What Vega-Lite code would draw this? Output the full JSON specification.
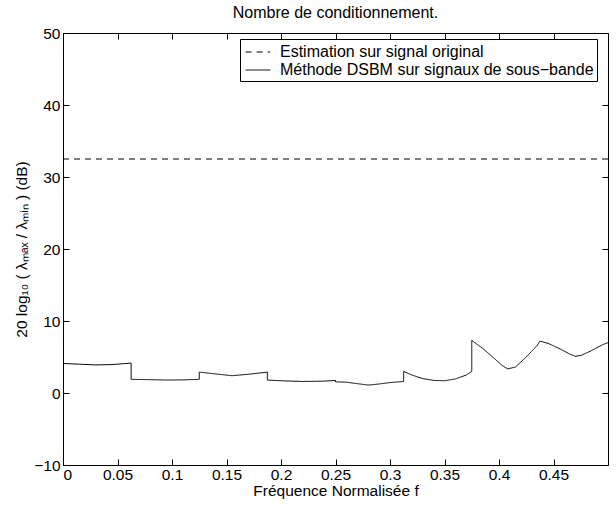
{
  "$schema": "https://vega.github.io/schema/vega-lite/v6.json",
  "autosize": "none",
  "width": 545,
  "height": 432,
  "padding": {"left": 63, "top": 33, "right": 8, "bottom": 43},
  "background": "white",
  "config": {
    "font": "Liberation Sans",
    "view": {"stroke": "black", "strokeWidth": 1},
    "axis": {
      "domain": false,
      "grid": false,
      "tickColor": "black",
      "tickSize": -6,
      "tickWidth": 1,
      "labelColor": "black",
      "labelFontSize": 15.5,
      "labelFont": "Liberation Sans",
      "labelOverlap": false,
      "titleColor": "black",
      "titleFontSize": 15.5,
      "titleFontWeight": "normal",
      "titleFont": "Liberation Sans"
    }
  },
  "title": {
    "text": "Nombre de conditionnement.",
    "fontSize": 16,
    "fontWeight": "normal",
    "font": "Liberation Sans",
    "color": "black",
    "offset": 5,
    "anchor": "middle"
  },
  "datasets": {
    "lines": [
      {"i": 0, "s": "Estimation sur signal original", "f": 0, "v": 32.5},
      {"i": 1, "s": "Estimation sur signal original", "f": 0.5, "v": 32.5},
      {"i": 0, "s": "Méthode DSBM sur signaux de sous−bande", "f": 0.0, "v": 4.1},
      {"i": 1, "s": "Méthode DSBM sur signaux de sous−bande", "f": 0.015, "v": 4.0},
      {"i": 2, "s": "Méthode DSBM sur signaux de sous−bande", "f": 0.03, "v": 3.9},
      {"i": 3, "s": "Méthode DSBM sur signaux de sous−bande", "f": 0.045, "v": 3.95},
      {"i": 4, "s": "Méthode DSBM sur signaux de sous−bande", "f": 0.0625, "v": 4.15},
      {"i": 5, "s": "Méthode DSBM sur signaux de sous−bande", "f": 0.0625, "v": 1.9},
      {"i": 6, "s": "Méthode DSBM sur signaux de sous−bande", "f": 0.08, "v": 1.85},
      {"i": 7, "s": "Méthode DSBM sur signaux de sous−bande", "f": 0.095, "v": 1.8},
      {"i": 8, "s": "Méthode DSBM sur signaux de sous−bande", "f": 0.11, "v": 1.82},
      {"i": 9, "s": "Méthode DSBM sur signaux de sous−bande", "f": 0.125, "v": 1.9},
      {"i": 10, "s": "Méthode DSBM sur signaux de sous−bande", "f": 0.125, "v": 2.9},
      {"i": 11, "s": "Méthode DSBM sur signaux de sous−bande", "f": 0.14, "v": 2.65},
      {"i": 12, "s": "Méthode DSBM sur signaux de sous−bande", "f": 0.155, "v": 2.4},
      {"i": 13, "s": "Méthode DSBM sur signaux de sous−bande", "f": 0.17, "v": 2.6},
      {"i": 14, "s": "Méthode DSBM sur signaux de sous−bande", "f": 0.1875, "v": 2.9},
      {"i": 15, "s": "Méthode DSBM sur signaux de sous−bande", "f": 0.1875, "v": 1.8},
      {"i": 16, "s": "Méthode DSBM sur signaux de sous−bande", "f": 0.2, "v": 1.7},
      {"i": 17, "s": "Méthode DSBM sur signaux de sous−bande", "f": 0.22, "v": 1.6},
      {"i": 18, "s": "Méthode DSBM sur signaux de sous−bande", "f": 0.24, "v": 1.65},
      {"i": 19, "s": "Méthode DSBM sur signaux de sous−bande", "f": 0.25, "v": 1.75},
      {"i": 20, "s": "Méthode DSBM sur signaux de sous−bande", "f": 0.25, "v": 1.55},
      {"i": 21, "s": "Méthode DSBM sur signaux de sous−bande", "f": 0.26, "v": 1.5},
      {"i": 22, "s": "Méthode DSBM sur signaux de sous−bande", "f": 0.27, "v": 1.3},
      {"i": 23, "s": "Méthode DSBM sur signaux de sous−bande", "f": 0.28, "v": 1.1},
      {"i": 24, "s": "Méthode DSBM sur signaux de sous−bande", "f": 0.29, "v": 1.25},
      {"i": 25, "s": "Méthode DSBM sur signaux de sous−bande", "f": 0.3, "v": 1.45},
      {"i": 26, "s": "Méthode DSBM sur signaux de sous−bande", "f": 0.3125, "v": 1.6},
      {"i": 27, "s": "Méthode DSBM sur signaux de sous−bande", "f": 0.3125, "v": 3.0},
      {"i": 28, "s": "Méthode DSBM sur signaux de sous−bande", "f": 0.32, "v": 2.5},
      {"i": 29, "s": "Méthode DSBM sur signaux de sous−bande", "f": 0.33, "v": 2.0},
      {"i": 30, "s": "Méthode DSBM sur signaux de sous−bande", "f": 0.34, "v": 1.75},
      {"i": 31, "s": "Méthode DSBM sur signaux de sous−bande", "f": 0.35, "v": 1.7},
      {"i": 32, "s": "Méthode DSBM sur signaux de sous−bande", "f": 0.36, "v": 1.95},
      {"i": 33, "s": "Méthode DSBM sur signaux de sous−bande", "f": 0.37, "v": 2.5},
      {"i": 34, "s": "Méthode DSBM sur signaux de sous−bande", "f": 0.375, "v": 3.0},
      {"i": 35, "s": "Méthode DSBM sur signaux de sous−bande", "f": 0.375, "v": 7.3},
      {"i": 36, "s": "Méthode DSBM sur signaux de sous−bande", "f": 0.385, "v": 6.2},
      {"i": 37, "s": "Méthode DSBM sur signaux de sous−bande", "f": 0.395, "v": 4.9},
      {"i": 38, "s": "Méthode DSBM sur signaux de sous−bande", "f": 0.403, "v": 3.8},
      {"i": 39, "s": "Méthode DSBM sur signaux de sous−bande", "f": 0.408, "v": 3.35},
      {"i": 40, "s": "Méthode DSBM sur signaux de sous−bande", "f": 0.415, "v": 3.6},
      {"i": 41, "s": "Méthode DSBM sur signaux de sous−bande", "f": 0.425, "v": 5.0},
      {"i": 42, "s": "Méthode DSBM sur signaux de sous−bande", "f": 0.435, "v": 6.6},
      {"i": 43, "s": "Méthode DSBM sur signaux de sous−bande", "f": 0.4375, "v": 7.2},
      {"i": 44, "s": "Méthode DSBM sur signaux de sous−bande", "f": 0.445, "v": 6.9},
      {"i": 45, "s": "Méthode DSBM sur signaux de sous−bande", "f": 0.455, "v": 6.2},
      {"i": 46, "s": "Méthode DSBM sur signaux de sous−bande", "f": 0.465, "v": 5.4},
      {"i": 47, "s": "Méthode DSBM sur signaux de sous−bande", "f": 0.47, "v": 5.1},
      {"i": 48, "s": "Méthode DSBM sur signaux de sous−bande", "f": 0.475, "v": 5.2},
      {"i": 49, "s": "Méthode DSBM sur signaux de sous−bande", "f": 0.485, "v": 5.9},
      {"i": 50, "s": "Méthode DSBM sur signaux de sous−bande", "f": 0.495, "v": 6.7},
      {"i": 51, "s": "Méthode DSBM sur signaux de sous−bande", "f": 0.5, "v": 7.0}
    ]
  },
  "data": {"name": "lines"},
  "layer": [
    {
      "mark": {"type": "line", "color": "black", "strokeWidth": 1, "clip": true},
      "encoding": {
        "x": {
          "field": "f", "type": "quantitative",
          "scale": {"domain": [0, 0.5], "nice": false, "zero": false},
          "axis": {
            "orient": "bottom",
            "values": [0, 0.05, 0.1, 0.15, 0.2, 0.25, 0.3, 0.35, 0.4, 0.45],
            "format": "~g",
            "title": "Fréquence Normalisée f",
            "labelPadding": 8,
            "titlePadding": 1
          }
        },
        "y": {
          "field": "v", "type": "quantitative",
          "scale": {"domain": [-10, 50], "nice": false, "zero": false},
          "axis": {
            "orient": "left",
            "values": [-10, 0, 10, 20, 30, 40, 50],
            "title": "20 log₁₀ ( λₘₐₓ / λₘᵢₙ ) (dB)",
            "labelPadding": 9,
            "titlePadding": 4
          }
        },
        "order": {"field": "i", "type": "quantitative"},
        "strokeDash": {
          "field": "s", "type": "nominal",
          "scale": {
            "domain": ["Estimation sur signal original", "Méthode DSBM sur signaux de sous−bande"],
            "range": [[6, 5], [1, 0]]
          },
          "legend": {
            "title": null,
            "orient": "none",
            "legendX": 177,
            "legendY": 6,
            "strokeColor": "black",
            "fillColor": "white",
            "padding": 3,
            "symbolOffset": 5,
            "symbolType": "M-1.3,0H1.3",
            "symbolSize": 361,
            "symbolStrokeColor": "black",
            "symbolStrokeWidth": 1,
            "labelFontSize": 16,
            "labelFont": "Liberation Sans",
            "labelColor": "black",
            "labelOffset": 12,
            "labelLimit": 500,
            "rowPadding": 0,
            "cornerRadius": 0
          }
        }
      }
    },
    {
      "mark": {"type": "line", "opacity": 0},
      "encoding": {
        "x": {
          "field": "f", "type": "quantitative",
          "axis": {
            "orient": "top",
            "values": [0, 0.05, 0.1, 0.15, 0.2, 0.25, 0.3, 0.35, 0.4, 0.45],
            "labels": false,
            "title": null
          }
        },
        "y": {
          "field": "v", "type": "quantitative",
          "axis": {
            "orient": "right",
            "values": [-10, 0, 10, 20, 30, 40, 50],
            "labels": false,
            "title": null
          }
        },
        "detail": {"field": "s"}
      }
    }
  ],
  "resolve": {"axis": {"x": "independent", "y": "independent"}}
}
